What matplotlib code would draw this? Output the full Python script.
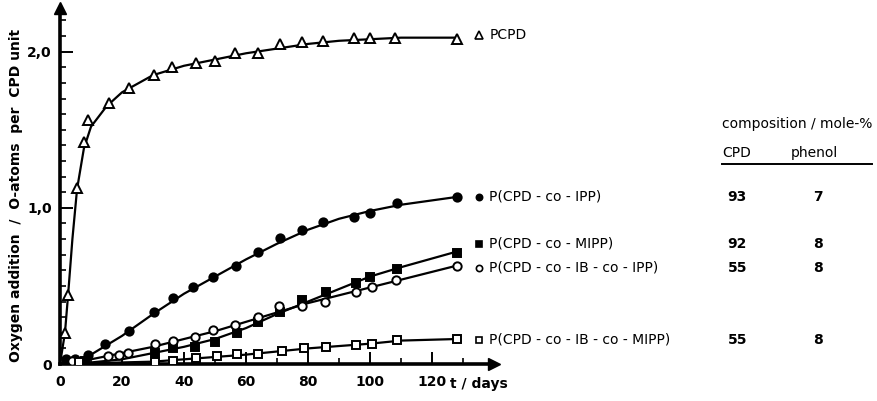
import numpy as np
import matplotlib
matplotlib.use("Agg")
import matplotlib.pyplot as plt
from matplotlib.ticker import MultipleLocator, FixedLocator

# measured points, t in days, O-atoms per CPD unit
t_pcpd = [1.6, 2.6, 5.5, 7.7, 9, 15.8, 22.3, 30.3, 36, 44, 50, 56.5, 64, 71, 78, 85, 95, 100, 108, 128]
v_pcpd = [0.20, 0.44, 1.13, 1.42, 1.56, 1.67, 1.77, 1.85, 1.90, 1.93, 1.94, 1.99, 1.99, 2.05, 2.06, 2.07, 2.09, 2.09, 2.09, 2.08]

t_ipp = [2, 5, 9, 14.5, 22.3, 30.3, 36.5, 43, 49.4, 56.8, 64, 71, 78, 85, 95, 100, 108.6, 128]
v_ipp = [0.03, 0.03, 0.06, 0.13, 0.21, 0.33, 0.42, 0.49, 0.56, 0.63, 0.72, 0.81, 0.86, 0.91, 0.94, 0.97, 1.03, 1.07]

t_mipp = [3, 8, 30.6, 36.5, 43.5, 50, 57, 64, 71, 78, 85.8, 95.5, 100, 108.7, 128]
v_mipp = [0.01, 0.02, 0.07, 0.10, 0.11, 0.14, 0.20, 0.27, 0.33, 0.41, 0.46, 0.52, 0.56, 0.61, 0.71]

t_ib_ipp = [4, 15.5, 19, 22, 30.6, 36.5, 43.5, 49.4, 56.5, 64, 70.6, 78, 85.5, 95.5, 100.6, 108.4, 128]
v_ib_ipp = [0.02, 0.05, 0.06, 0.07, 0.13, 0.15, 0.17, 0.22, 0.25, 0.30, 0.37, 0.37, 0.40, 0.46, 0.49, 0.54, 0.63]

t_ib_mipp = [6, 30.6, 36.5, 44, 50.6, 57, 64, 71.6, 78.7, 85.8, 95.5, 100.6, 108.7, 128]
v_ib_mipp = [0.01, 0.01, 0.02, 0.04, 0.05, 0.065, 0.065, 0.085, 0.10, 0.11, 0.12, 0.13, 0.155, 0.16]

# hand drawn curves
ct_pcpd = [0, 1.6, 2.6, 4, 5.5, 7.7, 10, 15, 20, 30, 40, 50, 60, 70, 80, 90, 100, 110, 128]
cv_pcpd = [0, 0.20, 0.44, 0.80, 1.12, 1.38, 1.52, 1.65, 1.74, 1.85, 1.91, 1.95, 1.99, 2.02, 2.05, 2.07, 2.08, 2.09, 2.09]

ct_low = [0, 5, 10, 20, 30, 40, 50, 60, 70, 80, 90, 100, 110, 128]
cv_ipp = [0, 0.02, 0.06, 0.18, 0.32, 0.45, 0.56, 0.67, 0.77, 0.86, 0.93, 0.98, 1.02, 1.07]
cv_mipp = [0, 0.005, 0.01, 0.03, 0.07, 0.11, 0.16, 0.23, 0.32, 0.40, 0.48, 0.56, 0.62, 0.72]
cv_ib_ipp = [0, 0.01, 0.03, 0.07, 0.11, 0.16, 0.21, 0.27, 0.33, 0.39, 0.44, 0.49, 0.54, 0.63]
cv_ib_mipp = [0, 0.0, 0.005, 0.01, 0.015, 0.03, 0.045, 0.06, 0.08, 0.10, 0.115, 0.13, 0.15, 0.16]

names = ["PCPD", "P(CPD - co - IPP)", "P(CPD - co - MIPP)", "P(CPD - co - IB - co - IPP)", "P(CPD - co - IB - co - MIPP)"]
cpd_pct = ["", "93", "92", "55", "55"]
phenol_pct = ["", "7", "8", "8", "8"]

plt.rcParams['font.family'] = ['DejaVu Sans']
FS = 10

fig = plt.figure(figsize=(8.78, 4.01), dpi=100)
ax = fig.add_axes([60 / 878, 37 / 401, 434 / 878, 356 / 401])
ax.set_xlim(0, 140)
ax.set_ylim(0, 2.28)

series = [
    (t_pcpd, v_pcpd, ct_pcpd, cv_pcpd, dict(marker='^', mfc='white', ms=7)),
    (t_ipp, v_ipp, ct_low, cv_ipp, dict(marker='o', mfc='black', ms=6)),
    (t_mipp, v_mipp, ct_low, cv_mipp, dict(marker='s', mfc='black', ms=6)),
    (t_ib_ipp, v_ib_ipp, ct_low, cv_ib_ipp, dict(marker='o', mfc='white', ms=6)),
    (t_ib_mipp, v_ib_mipp, ct_low, cv_ib_mipp, dict(marker='s', mfc='white', ms=6)),
]
for t, v, ct, cv, mk in series:
    ax.plot(ct, cv, color='black', lw=1.6, zorder=2)
    ax.plot(t, v, ls='none', mec='black', mew=1.4, zorder=3, **mk)

# axes: only left and bottom, with arrow heads
for s in ['top', 'right']:
    ax.spines[s].set_visible(False)
for s in ['left', 'bottom']:
    ax.spines[s].set_linewidth(2.6)
ax.plot(1, 0, '>k', ms=9, transform=ax.transAxes, clip_on=False)
ax.plot(0, 1, '^k', ms=9, transform=ax.transAxes, clip_on=False)

ax.xaxis.set_major_locator(FixedLocator([0, 20, 40, 60, 80, 100, 120]))
ax.xaxis.set_minor_locator(FixedLocator([10, 30, 50, 70, 90, 110, 130]))
ax.yaxis.set_major_locator(FixedLocator([0, 1.0, 2.0]))
ax.yaxis.set_minor_locator(MultipleLocator(0.1))
ax.set_yticklabels(['0', '1,0', '2,0'])
ax.tick_params(which='major', direction='in', length=9, width=1.4, labelsize=FS, pad=8)
ax.tick_params(which='minor', direction='in', length=4.5, width=1.2)
ax.tick_params(axis='y', pad=6)
for lab in ax.get_xticklabels() + ax.get_yticklabels():
    lab.set_fontweight('bold')

ax.text(135, -0.13, "t / days", fontsize=FS, fontweight='bold', ha='center', va='center', clip_on=False)
fig.text(16 / 878, 1 - 195 / 401, "Oxygen addition  /  O-atoms  per  CPD unit",
         rotation=90, fontsize=FS, fontweight='bold', ha='center', va='center')

# labels to the right of the curves
row_y = [2.11, 1.07, 0.77, 0.615, 0.154]
for (t, v, ct, cv, mk), name, y, c1, c2 in zip(series, names, row_y, cpd_pct, phenol_pct):
    m = dict(mk)
    m['ms'] = m['ms'] - 1.5
    ax.plot(135.3, y, ls='none', mec='black', mew=1.2, clip_on=False, **m)
    ax.text(138.5, y, name, fontsize=FS, ha='left', va='center', clip_on=False)
    ax.text(218.5, y, c1, fontsize=FS, fontweight='bold', ha='center', va='center', clip_on=False)
    ax.text(244.5, y, c2, fontsize=FS, fontweight='bold', ha='center', va='center', clip_on=False)

# composition table header
fig.text(722 / 878, 1 - 124 / 401, "composition / mole-%", fontsize=FS, ha='left', va='center')
fig.text(722 / 878, 1 - 153 / 401, "CPD", fontsize=FS, ha='left', va='center')
fig.text(814 / 878, 1 - 153 / 401, "phenol", fontsize=FS, ha='center', va='center')
fig.add_artist(plt.Line2D([722 / 878, 872 / 878], [1 - 164 / 401, 1 - 164 / 401], color='black', lw=1.4))

fig.savefig("out.png", dpi=100)
